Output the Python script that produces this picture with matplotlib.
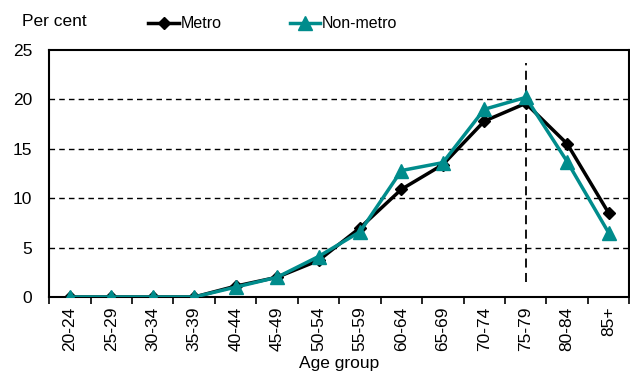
import matplotlib.pyplot as plt
import numpy as np

plt.rcParams['font.family'] = ['Liberation Sans', 'DejaVu Sans']

ages = ['20-24', '25-29', '30-34', '35-39', '40-44', '45-49', '50-54',
        '55-59', '60-64', '65-69', '70-74', '75-79', '80-84', '85+']
metro = [0.0, 0.0, 0.0, 0.0, 1.1, 2.0, 3.7, 7.0, 10.9, 13.4, 17.8, 19.6, 15.5, 8.5]
nonmetro = [0.0, 0.0, 0.0, 0.0, 1.0, 2.0, 4.1, 6.6, 12.8, 13.6, 19.0, 20.2, 13.7, 6.5]
teal = '#008C8C'
fs = 12.5

fig = plt.figure(figsize=(6.3, 3.83), dpi=100)
ax = fig.add_axes([0.078, 0.2245, 0.921, 0.645])

x = np.arange(len(ages))
for yv in [5, 10, 15, 20]:
    ax.axhline(yv, color='black', linestyle=(0, (4, 3)), linewidth=1, zorder=1)
ax.vlines(11, 1.5, 23.7, color='black', linestyle=(0, (5, 3)), linewidth=1.3, zorder=1)

ax.plot(x, metro, color='black', marker='D', markersize=6, linewidth=2.5, label='Metro', zorder=3)
ax.plot(x, nonmetro, color=teal, marker='^', markersize=9.5, linewidth=2.5, label='Non-metro', zorder=4)

ax.set_xlim(-0.5, 13.5)
ax.set_ylim(0, 25)
ax.set_yticks([0, 5, 10, 15, 20, 25])
ax.tick_params(axis='y', length=0, labelsize=fs, pad=12)
ax.set_xticks(x)
ax.set_xticklabels(ages, rotation=90, fontsize=fs)
ax.set_xticks(np.arange(-0.5, 14, 1), minor=True)
ax.tick_params(axis='x', which='major', length=0, pad=7)
ax.tick_params(axis='x', which='minor', length=5, width=1.2, direction='out')
for s in ax.spines.values():
    s.set_linewidth(1.5)

ax.set_xlabel('Age group', fontsize=fs, labelpad=3)
fig.text(0.035, 0.945, 'Per cent', fontsize=fs, va='center')
ax.legend(loc='lower left', bbox_to_anchor=(0.16, 1.05), ncol=2, frameon=False,
          fontsize=11.5, handlelength=1.9, handletextpad=0.1, columnspacing=4.3,
          borderaxespad=0)

fig.savefig('out.png', dpi=100)
